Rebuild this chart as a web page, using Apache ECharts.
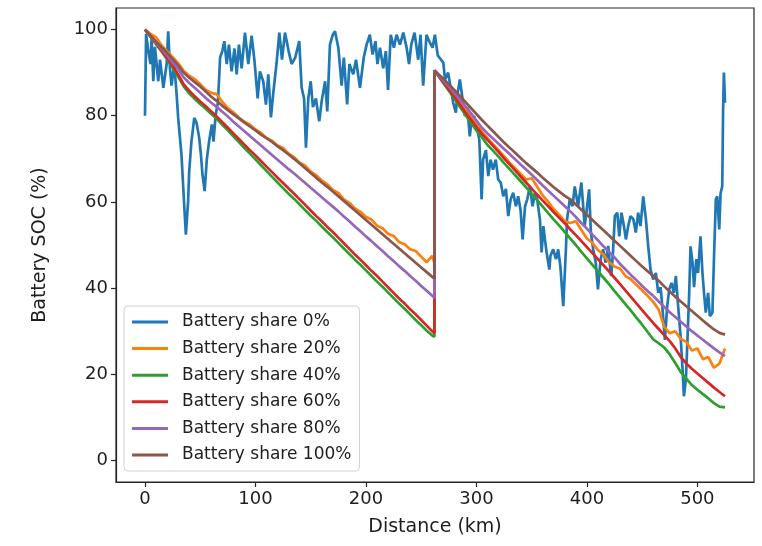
<!DOCTYPE html>
<html>
<head>
<meta charset="UTF-8">
<title>index.html</title>
<style type="text/css">
html, body { margin: 0; padding: 0; background: #fff; }
#main { width: 762px; height: 546px; }
</style>
</head>
<body>
  <div id="main"></div>
</body>
<script type="text/javascript" src="https://cdn.jsdelivr.net/npm/echarts@6.0.0/dist/echarts.min.js"></script>
<script>
  // distance grid for the 20..100 % curves (262 twice = the recharge jump)
  var km = [
    0, 5, 10, 15, 20, 25, 30, 35, 40, 45, 50, 55, 60, 65, 70, 75, 80, 85, 90, 95,
    100, 105, 110, 115, 120, 125, 130, 135, 140, 145, 150, 155, 160, 165, 170, 175, 180, 185, 190, 195,
    200, 205, 210, 215, 220, 225, 230, 235, 240, 245, 250, 255, 260, 262,
    262, 265, 270, 275, 280, 285, 290, 295, 300, 305, 310, 315, 320, 325, 330, 335, 340, 345, 350, 355,
    360, 365, 370, 375, 380, 385, 390, 395, 400, 405, 410, 415, 420, 425, 430, 435, 440, 445, 450, 455,
    460, 465, 470, 475, 480, 485, 490, 495, 500, 505, 510, 515, 520, 525
  ];

  // battery share 0% : [km, soc]
  var share0 = [
    [0,80],[1,99],[3,95],[5,92],[6,98],[7.5,88],[9,96],[12,88],[13.6,93],[16.6,86.5],[19.6,92],[21,99.6],
    [22.6,91],[24,87],[26.5,92],[28.6,85],[30,79.6],[33,71],[35.6,58.7],[37,52.4],[39,60],[40,67],[42,74],
    [44.6,79.5],[46.6,78.4],[49,75],[50.6,71],[52,66.4],[54,62.5],[56,70],[58,74],[60.5,78],[62,74],[64,80.3],
    [66,83],[68,93.5],[70,95],[71.8,97.3],[74,92],[76,96.5],[78.4,90.3],[81,95.6],[83,89.6],[85,96.5],[87.5,91],
    [90.5,99.3],[93.5,92],[96.5,98.6],[99,93],[102,84],[104,90.3],[107,88],[109.5,82.6],[111.6,89.6],[114,79.6],
    [116,85],[119,92],[121.6,99.3],[124,93],[126.7,99.3],[130,95],[132.7,92],[136,93.5],[139.6,97.3],[141.8,86.5],
    [144,84],[145.7,72.6],[147.8,84],[150,88],[152,82],[154.7,84],[157.7,78.7],[160,83.5],[163,88],[165,81],
    [167.4,96.5],[170,98.8],[172,99.6],[175,95.8],[178,87],[180,93.5],[183,82.6],[185,92],[188.5,89.6],[191,93],
    [194.6,86.5],[198,93.5],[200.6,96.5],[203.5,98.8],[206,94.2],[208.6,97.3],[210.4,92],[212.7,95.8],[215.6,91],
    [218,95],[220,86],[222.4,98.8],[225.3,95.8],[227.7,98.8],[230.8,96.5],[233.8,99.3],[236.8,95.8],[239,92],
    [241,96.5],[244,99.3],[247.3,93],[249.4,98.8],[251.8,87],[254.8,98.8],[257.2,97.3],[260.3,95.8],[262.4,98.8],
    [265,94],[268,93],[270,92.3],[271.6,88.4],[274.4,90],[276.5,86.8],[279,83],[281.4,80.7],[282.6,84.6],[285,88.4],
    [287.4,84],[289.6,79.9],[291.8,82],[294,75.2],[295.6,79],[298,79.9],[300.2,77.6],[302.6,74.5],[304.7,60.6],
    [306,69.8],[308.6,72],[310.7,66],[312.8,69.8],[315,67.5],[317.5,69.8],[319.7,65.2],[322,64.5],[324.3,61.3],
    [326.7,63],[328.8,56.7],[331,60.6],[333.3,62.1],[335.7,59],[337.8,61.3],[340,58],[341.8,51.3],[344,59],
    [346,60.6],[348.4,63.6],[350.8,59],[353,62],[355,60.6],[357.5,55.9],[359,48.3],[360.6,54.4],[362,51.3],
    [363.5,48.3],[366,44.3],[367,47.5],[369.5,49],[372,46.7],[374,49],[376,45],[378.6,35.8],[381,49],[382,55.9],
    [384.5,60.6],[387,59],[389,63.6],[392,59],[395,64.5],[396.5,64.7],[398,54.4],[400.2,59],[402,62.9],[403.6,52.9],
    [405.7,49],[408,45.9],[410,39.7],[412.4,46.7],[414.7,49],[417,45.9],[419.3,49.8],[421,45],[422,42.8],[423.6,48.3],
    [425.3,56.7],[427.5,57.5],[429.3,52],[431.3,57.5],[433.5,54.4],[435.3,51.3],[437.4,54.4],[439.5,56.7],[442,56],
    [444.3,52.9],[446.4,57.5],[448.5,54.4],[451,61.3],[453.4,56],[455.5,49.7],[457.6,44.3],[460,42],[462.4,43.5],
    [464.6,38.9],[466.7,40.2],[468.5,35],[470.6,28],[472.7,35.8],[474.5,39.7],[476.6,41.2],[478.7,38.9],[480.5,42.8],
    [482.6,35.8],[484.8,28.8],[486.6,21.1],[487.8,14.9],[489.6,18.8],[490.8,26.5],[492.6,38.9],[493.8,49.7],
    [495.6,45.9],[497,40.2],[499,46.7],[500.6,43.5],[502.8,52],[504.6,43.5],[506,38.9],[507.6,34.3],[509.7,38.9],
    [511.3,33.5],[513.6,34.3],[515,46.7],[516.7,60.6],[518,61.3],[519.8,53.6],[521,62],[522.5,63.6],[523.3,81.4],
    [524,90],[525,83]
  ];

  var share20 = [
    100, 99, 98.2, 96.3, 95, 93.6, 92.2, 90.4, 89.3, 88.5, 87.3, 86, 85.3, 85, 83.2, 81.8, 80.8, 79.6, 78.6, 77.9,
    76.8, 76, 74.8, 74.2, 73.1, 72.5, 71.2, 70.4, 69.1, 68.4, 67, 66.2, 65, 64.1, 62.8, 62.1, 60.6, 59.8, 58.5, 57.7,
    56.5, 55.9, 54.5, 53.9, 52.6, 52.1, 50.7, 50.2, 49, 48.6, 47.3, 46, 47.5, 45.8,
    90.5, 89.6, 88, 86.4, 84.8, 83.2, 81.5, 79.8, 78, 76.3, 74.8, 73.4, 72, 70.6, 69.1, 67.8, 66.5, 65.2, 65.5, 63.5,
    61.5, 60, 58.3, 57, 55.5, 55.1, 55.5, 53.5, 51.5, 50.5, 48.8, 47.8, 46, 45, 44.5, 42.8, 42, 40.7, 39.5, 38.2,
    36.8, 35, 31, 29.5, 30, 28.2, 27.5, 25.5, 26, 23.5, 24, 21.5, 22.5, 26
  ];
  var share40 = [
    100, 98.3, 96.6, 94.9, 93.1, 91.2, 89.1, 86.8, 85.2, 83.9, 82.7, 81.6, 80.4, 79.3, 77.9, 76.6, 75.2, 73.9, 72.5, 71.2,
    69.9, 68.5, 67.2, 65.8, 64.5, 63.2, 61.9, 60.7, 59.4, 58.1, 56.8, 55.6, 54.3, 53, 51.8, 50.5, 49.2, 47.9, 46.6, 45.4,
    44.1, 42.8, 41.5, 40.3, 39, 37.7, 36.4, 35.2, 33.9, 32.6, 31.4, 30.1, 29, 28.7,
    90.5, 89.4, 87.6, 85.8, 84, 82.1, 80.2, 78.4, 76.6, 75, 73.2, 71.9, 70.5, 69, 67.6, 66.2, 64.8, 63.4, 61.9, 60.4,
    58.9, 57.4, 55.9, 54.5, 53, 51.5, 50, 48.4, 46.9, 45.4, 43.9, 42.4, 40.9, 39.3, 37.8, 36.2, 34.7, 33.1, 31.5, 29.8,
    28.1, 27.2, 26.2, 24.6, 22.6, 20.5, 19, 17.5, 16.4, 15.4, 14.4, 13.3, 12.5, 12.3
  ];
  var share60 = [
    100, 98.4, 96.8, 95.1, 93.4, 91.6, 89.6, 87.3, 85.8, 84.5, 83.3, 82.2, 81, 79.8, 78.5, 77.2, 75.9, 74.6, 73.3, 72,
    70.8, 69.5, 68.2, 66.9, 65.6, 64.4, 63.1, 61.9, 60.6, 59.3, 58, 56.7, 55.5, 54.2, 53, 51.7, 50.4, 49.1, 47.8, 46.6,
    45.3, 44, 42.8, 41.5, 40.2, 38.9, 37.6, 36.4, 35.1, 33.9, 32.6, 31.3, 30, 29.5,
    90.5, 89.5, 87.8, 86.1, 84.4, 82.6, 80.8, 79.1, 77.4, 75.8, 74.4, 73, 71.6, 70.1, 68.7, 67.3, 65.9, 64.5, 63.1, 61.7,
    60.3, 59, 57.6, 56.3, 55, 53.6, 52.3, 50.9, 49.5, 48.1, 46.7, 45.3, 43.9, 42.4, 40.9, 39.4, 37.9, 36.4, 34.9, 33.4,
    31.9, 30.5, 29.1, 27.7, 26, 24, 22.5, 21.3, 20.2, 19.1, 18, 16.9, 15.9, 14.9
  ];
  var share80 = [
    100, 98.5, 97, 95.5, 94, 92.4, 90.8, 88.9, 87.6, 86.5, 85.3, 84.1, 83, 82, 80.9, 79.8, 78.6, 77.5, 76.4, 75.3,
    74.2, 73.1, 72, 70.9, 69.8, 68.7, 67.6, 66.6, 65.5, 64.4, 63.3, 62.2, 61.1, 60, 58.9, 57.8, 56.6, 55.5, 54.3, 53.2,
    52, 50.9, 49.7, 48.6, 47.4, 46.3, 45.1, 44, 42.8, 41.7, 40.5, 39.4, 38.2, 37.7,
    90.5, 89.6, 88.2, 86.8, 85.3, 83.8, 82.2, 80.6, 78.9, 77.2, 75.9, 74.7, 73.5, 72.3, 71.1, 69.9, 68.7, 67.5, 66.3, 65.1,
    63.8, 62.6, 61.4, 60.2, 59, 57.8, 56.5, 55.1, 53.8, 52.4, 51.1, 49.7, 48.4, 47.1, 45.6, 44.3, 43, 41.8, 40.5, 39.3,
    38.2, 36.9, 35.6, 34.4, 33.3, 32.2, 31.1, 30, 29, 28, 27, 26, 25.1, 24.2
  ];
  var share100 = [
    100, 98.6, 97.2, 95.9, 94.6, 93.2, 91.7, 90, 88.8, 87.8, 86.8, 85.6, 84.4, 83.4, 82.3, 81.3, 80.3, 79.4, 78.4, 77.5,
    76.6, 75.6, 74.8, 73.9, 72.9, 72, 71, 70, 68.9, 67.8, 66.7, 65.6, 64.5, 63.5, 62.4, 61.3, 60.2, 59.1, 58, 56.9,
    55.8, 54.7, 53.6, 52.5, 51.4, 50.3, 49.2, 48.1, 47, 45.9, 44.8, 43.7, 42.6, 42.2,
    90.5, 89.8, 88.6, 87.3, 86, 84.6, 83.2, 81.8, 80.4, 79, 77.7, 76.4, 75.1, 73.8, 72.6, 71.4, 70.2, 69, 67.9, 66.8,
    65.6, 64.5, 63.4, 62.4, 61.4, 60.6, 59.4, 58.2, 57, 55.8, 54.6, 53.4, 52.2, 51, 49.8, 48.6, 47.4, 46.2, 45, 43.9,
    42.8, 41.7, 40.4, 39.2, 38, 36.9, 35.8, 34.7, 33.6, 32.5, 31.4, 30.4, 29.6, 29.2
  ];

  var names = ['Battery share 0%', 'Battery share 20%', 'Battery share 40%',
               'Battery share 60%', 'Battery share 80%', 'Battery share 100%'];
  var colors = ['#1f77b4', '#ff7f0e', '#2ca02c', '#d62728', '#9467bd', '#8c564b'];
  var xTicks = [0, 100, 200, 300, 400, 500];
  var yTicks = [0, 20, 40, 60, 80, 100];

  function pairs(vals) {
    return km.map(function(d, i) { return [d, vals[i]]; });
  }

  var lines = [share0, pairs(share20), pairs(share40), pairs(share60), pairs(share80), pairs(share100)];

  var font = 'DejaVu Sans';
  var txt = '#1e1e1e';

  var myChart = echarts.init(document.getElementById('main'), null, { renderer: 'canvas' });
  var option = {
    animation: false,
    color: colors,
    grid: {
      left: 116, right: 8, top: 8, bottom: 64,
      show: true, borderColor: '#262626', borderWidth: 1.2
    },
    legend: {
      orient: 'vertical',
      left: 124, top: 306,
      padding: [7, 8, 7, 8],
      itemWidth: 36, itemHeight: 3, itemGap: 8.6,
      icon: 'rect',
      backgroundColor: 'rgba(255,255,255,0.85)',
      borderColor: '#d0d0d0', borderWidth: 1, borderRadius: 4,
      textStyle: { fontFamily: font, fontSize: 17, color: txt, lineHeight: 18, padding: [0, 0, 0, 9] },
      data: names
    },
    xAxis: {
      type: 'value',
      min: -26.25, max: 551.25,
      name: 'Distance (km)',
      nameLocation: 'middle', nameGap: 36,
      nameTextStyle: { fontFamily: font, fontSize: 19, color: txt },
      axisLine: { onZero: false, lineStyle: { color: '#262626', width: 1.2 } },
      axisTick: { customValues: xTicks, length: 5, lineStyle: { color: '#262626', width: 1.2 } },
      axisLabel: { customValues: xTicks, margin: 8, fontFamily: font, fontSize: 18, color: txt },
      splitLine: { show: false }
    },
    yAxis: {
      type: 'value',
      min: -5, max: 105,
      name: 'Battery SOC (%)',
      nameLocation: 'middle', nameGap: 66,
      nameTextStyle: { fontFamily: font, fontSize: 19, color: txt },
      axisLine: { onZero: false, lineStyle: { color: '#262626', width: 1.2 } },
      axisTick: { customValues: yTicks, length: 5, lineStyle: { color: '#262626', width: 1.2 } },
      axisLabel: { customValues: yTicks, margin: 8, fontFamily: font, fontSize: 18, color: txt },
      splitLine: { show: false }
    },
    series: lines.map(function(data, i) {
      return {
        name: names[i],
        type: 'line',
        data: data,
        symbol: 'none',
        showSymbol: false,
        lineStyle: { width: 2.7, color: colors[i] },
        itemStyle: { color: colors[i] }
      };
    })
  };
  myChart.setOption(option);
</script>
</html>
